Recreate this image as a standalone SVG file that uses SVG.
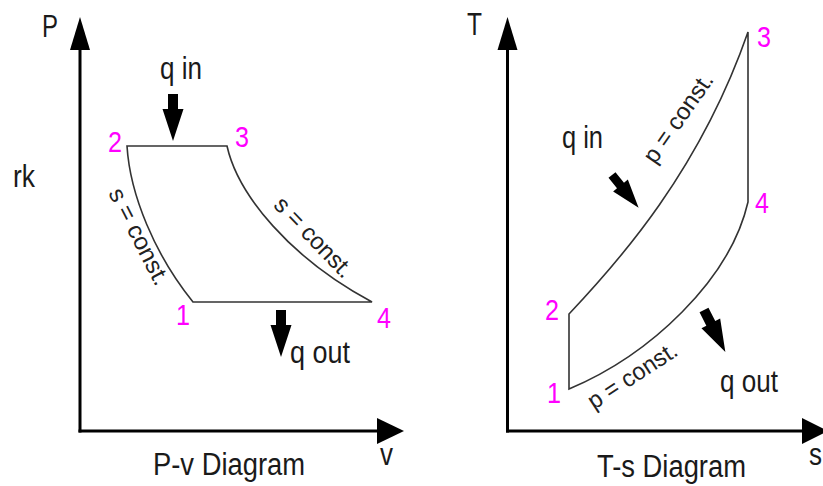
<svg xmlns="http://www.w3.org/2000/svg" width="823" height="486" viewBox="0 0 823 486">
<style>
.ax{stroke:#000;stroke-width:3;fill:none}
.ah{fill:#000}
.cy{stroke:#333;stroke-width:1.6;fill:none;stroke-linejoin:miter}
.t{font-family:"Liberation Sans",Arial,sans-serif;font-size:31px;fill:#1a1a1a}
.n{font-family:"Liberation Sans",Arial,sans-serif;font-size:30px;fill:#ff00ff}
.r{font-family:"Liberation Sans",Arial,sans-serif;font-size:24px;fill:#222}
</style>
<defs>
<path id="arr" d="M-5,0 H5 V15 H10.5 L0,47 L-10.5,15 H-5 Z" fill="#000"/>
</defs>
<g id="pv-diagram">
<g id="pv-axes">
<line class="ax" x1="80" y1="432.5" x2="80" y2="48"/>
<polygon class="ah" points="70,50 90,50 80,17"/>
<line class="ax" x1="78.5" y1="431" x2="379" y2="431"/>
<polygon class="ah" points="377,418 377,444 404,431"/>
<text class="t" x="42" y="37" textLength="16" lengthAdjust="spacingAndGlyphs">P</text>
<text class="t" x="380" y="465" textLength="13" lengthAdjust="spacingAndGlyphs">v</text>
<text class="t" x="13" y="187" textLength="22" lengthAdjust="spacingAndGlyphs">rk</text>
<text class="t" x="153" y="475" textLength="152" lengthAdjust="spacingAndGlyphs">P-v Diagram</text>
</g>
<g id="pv-cycle">
<path class="cy" d="M127,146 H227 C238,195 290,258 372,302 H193 C155,255 130,195 127,146 Z"/>
<text class="r" transform="translate(108,193) rotate(63)" textLength="106" lengthAdjust="spacingAndGlyphs">s = const.</text>
<text class="r" transform="translate(272.5,206) rotate(46)" textLength="102" lengthAdjust="spacingAndGlyphs">s = const.</text>
</g>
<g id="pv-points">
<text class="n" x="108" y="152" textLength="14" lengthAdjust="spacingAndGlyphs">2</text>
<text class="n" x="235" y="147" textLength="14" lengthAdjust="spacingAndGlyphs">3</text>
<text class="n" x="176" y="325" textLength="14" lengthAdjust="spacingAndGlyphs">1</text>
<text class="n" x="377" y="328" textLength="14" lengthAdjust="spacingAndGlyphs">4</text>
</g>
<g id="pv-heat">
<text class="t" x="160" y="79" textLength="42" lengthAdjust="spacingAndGlyphs">q in</text>
<use href="#arr" transform="translate(173,94)"/>
<use href="#arr" transform="translate(281,310)"/>
<text class="t" x="290" y="363" textLength="60" lengthAdjust="spacingAndGlyphs">q out</text>
</g>
</g>
<g id="ts-diagram">
<g id="ts-axes">
<line class="ax" x1="507.5" y1="432.5" x2="507.5" y2="48"/>
<polygon class="ah" points="497.5,50 517.5,50 507.5,17"/>
<line class="ax" x1="506" y1="431" x2="804" y2="431"/>
<polygon class="ah" points="802,418 802,444 828,431"/>
<text class="t" x="467" y="35" textLength="15" lengthAdjust="spacingAndGlyphs">T</text>
<text class="t" x="809" y="465" textLength="13" lengthAdjust="spacingAndGlyphs">s</text>
<text class="t" x="597" y="477" textLength="149" lengthAdjust="spacingAndGlyphs">T-s Diagram</text>
</g>
<g id="ts-cycle">
<path class="cy" d="M569,314 C620,260 700,170 748,32 V202 C730,280 650,355 569,389 Z"/>
<text class="r" transform="translate(655,165) rotate(-55)" textLength="104" lengthAdjust="spacingAndGlyphs">p = const.</text>
<text class="r" transform="translate(594,410) rotate(-33)" textLength="102" lengthAdjust="spacingAndGlyphs">p = const.</text>
</g>
<g id="ts-points">
<text class="n" x="757" y="47" textLength="14" lengthAdjust="spacingAndGlyphs">3</text>
<text class="n" x="755" y="213" textLength="14" lengthAdjust="spacingAndGlyphs">4</text>
<text class="n" x="545" y="320" textLength="14" lengthAdjust="spacingAndGlyphs">2</text>
<text class="n" x="547" y="403" textLength="14" lengthAdjust="spacingAndGlyphs">1</text>
</g>
<g id="ts-heat">
<text class="t" x="562" y="148" textLength="41" lengthAdjust="spacingAndGlyphs">q in</text>
<use href="#arr" transform="translate(612,175) rotate(-39) scale(0.9)"/>
<use href="#arr" transform="translate(704,310) rotate(-27)"/>
<text class="t" x="720" y="392" textLength="58" lengthAdjust="spacingAndGlyphs">q out</text>
</g>
</g>
</svg>
